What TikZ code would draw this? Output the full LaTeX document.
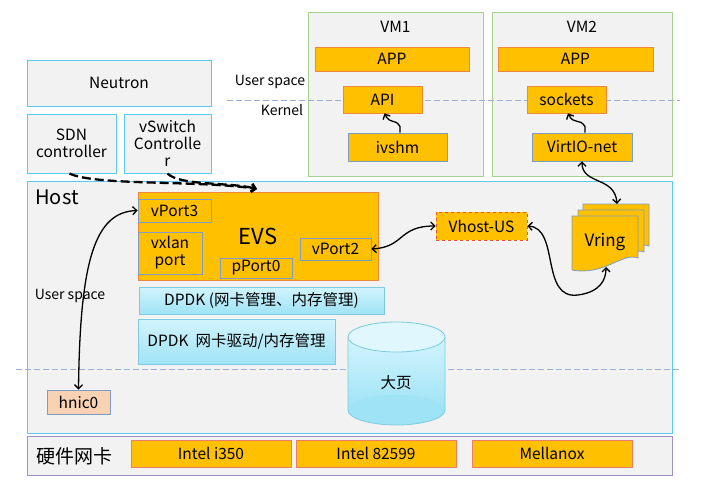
\documentclass[tikz,border=0pt]{standalone}
\usepackage{fontspec}
\setmainfont{Noto Sans CJK SC}
\usetikzlibrary{arrows.meta}

\definecolor{evsorange}{HTML}{FFC000}
\definecolor{boxgray}{HTML}{F2F2F2}
\definecolor{skyline}{HTML}{5BC9EC}
\definecolor{vmgreen}{HTML}{A9D18E}
\definecolor{nicpurple}{HTML}{A38FC0}
\definecolor{portblue}{HTML}{7F9DC4}
\definecolor{apporange}{HTML}{F0883C}
\definecolor{sepblue}{HTML}{95B3D7}
\definecolor{dpdkline}{HTML}{7CCBE0}
\definecolor{dpdktop}{HTML}{D2F4FC}
\definecolor{dpdkbot}{HTML}{9FE3F6}
\definecolor{hnicfill}{HTML}{F9D2B4}
\definecolor{redline}{HTML}{E8503A}

\tikzset{
  base/.style={font=\fontsize{15.5}{17}\selectfont, inner sep=0pt, align=center},
  graybox/.style={base, draw=skyline, fill=boxgray, line width=1pt},
  vmbox/.style={base, draw=vmgreen, fill=boxgray, line width=1pt},
  nicbox/.style={base, draw=nicpurple, fill=boxgray, line width=1pt},
  appbox/.style={base, draw=apporange, fill=evsorange, line width=0.8pt},
  intelbox/.style={base, draw=redline!75, fill=evsorange, line width=0.8pt},
  portbox/.style={base, draw=portblue, fill=evsorange, line width=0.8pt},
  dpdkbox/.style={base, draw=dpdkline, top color=dpdktop, bottom color=dpdkbot, line width=0.8pt},
  link/.style={<->, line width=1.3pt},
  wiggle/.style={->, line width=1.3pt},
  ctrl/.style={->, line width=2.3pt, dash pattern=on 9pt off 4pt},
  sep/.style={draw=sepblue, line width=1pt, dash pattern=on 6pt off 3pt}
}

\begin{document}
\begin{tikzpicture}[x=1pt, y=-1pt, >={Straight Barb[length=4pt,width=8pt]}]
  \useasboundingbox (0,0) rectangle (710,485);

  % controllers
  \node[graybox, minimum width=184, minimum height=46] (neutron) at (119,83) {Neutron};
  \node[graybox, minimum width=89, minimum height=59] (sdn) at (71.5,143.5) {SDN\\controller};
  \node[graybox, minimum width=87, minimum height=59] (vsc) at (167.5,143.5) {vSwitch\\Controlle\\r};

  % VMs
  \node[vmbox, minimum width=175, minimum height=164] (vm1) at (395.5,94) {};
  \node[vmbox, minimum width=180, minimum height=164] (vm2) at (582,94) {};
  \node[base] (vm1title) at (395.5,27) {VM1};
  \node[base] (vm2title) at (582,27) {VM2};

  \draw[sep] (227,100) -- (680,100);
  \node[base, font=\fontsize{14}{16}\selectfont] (userup) at (270,82) {User space};
  \node[base, font=\fontsize{14}{16}\selectfont] (kernel) at (282,110) {Kernel};

  \node[appbox, minimum width=154, minimum height=24] (app1) at (392,59) {APP};
  \node[appbox, minimum width=155, minimum height=24] (app2) at (575.5,59) {APP};
  \node[appbox, minimum width=79, minimum height=27] (api) at (382.5,99.5) {API};
  \node[portbox, minimum width=99, minimum height=28] (ivshm) at (397.5,147) {ivshm};
  \node[appbox, minimum width=79, minimum height=27] (sockets) at (566.5,99.5) {sockets};
  \node[portbox, minimum width=100, minimum height=28] (virtio) at (582,147) {VirtIO-net};

  % host
  \node[graybox, minimum width=645, minimum height=252] (host) at (349.5,307) {};
  \node[base, font=\fontsize{20}{22}\selectfont] (hosttitle) at (57,197) {Host};
  \node[base, font=\fontsize{14}{16}\selectfont] (userdown) at (70,296) {User space};

  \node[appbox, minimum width=240, minimum height=88] (evs) at (258,236) {};
  \node[base, font=\fontsize{22}{24}\selectfont] (evstitle) at (258,236) {EVS};
  \node[portbox, minimum width=73, minimum height=23] (vport3) at (174.5,210.5) {vPort3};
  \node[portbox, minimum width=64, minimum height=42] (vxlan) at (170,253) {vxlan\\port};
  \node[portbox, minimum width=72, minimum height=20] (pport0) at (256,268) {pPort0};
  \node[portbox, minimum width=71, minimum height=22] (vport2) at (335.5,249) {vPort2};

  \node[dpdkbox, minimum width=245, minimum height=27] (dpdkmgmt) at (261.5,300.5) {DPDK (网卡管理、内存管理)};
  \node[dpdkbox, minimum width=197, minimum height=45] (dpdkdrv) at (236.5,341.5) {DPDK\ \ 网卡驱动/内存管理};

  \draw[sep] (16,369) -- (679,369);

  % hugepage cylinder
  \fill[top color=dpdktop, bottom color=dpdkbot] (348,337) rectangle (445,410);
  \fill[dpdkbot] (396.5,410) ellipse[x radius=48.5pt, y radius=15pt];
  \draw[dpdkline, line width=0.8pt] (348,337) -- (348,410) arc[start angle=180, end angle=360, x radius=48.5pt, y radius=15pt] -- (445,337);
  \draw[dpdkline, line width=0.8pt, fill=dpdktop!70!white] (396.5,337) ellipse[x radius=48.5pt, y radius=15pt];
  \node[base] (hugepage) at (396,383) {大页};

  \node[portbox, fill=hnicfill, minimum width=63, minimum height=24] (hnic0) at (78.5,402) {hnic0};

  \node[appbox, draw=redline, dashed, minimum width=91, minimum height=28] (vhost) at (481.5,226) {Vhost-US};

  % vring pages
  \foreach \dx/\dy in {11/-12, 6/-6, 0/0}{
    \begin{scope}[shift={(572+\dx,216+\dy)}]
      \draw[fill=evsorange, draw=portblue, line width=0.8pt]
        (0,0) -- (66,0) -- (66,42) .. controls (50,36) and (33,60) .. (0,54) -- cycle;
    \end{scope}
  }
  \node[base, font=\fontsize{17}{19}\selectfont] (vring) at (605,242) {Vring};
  \coordinate (vringtop) at (617,204);
  \coordinate (vringbot) at (606,267);

  % hardware
  \node[nicbox, minimum width=645, minimum height=39] (hw) at (349.5,455.5) {};
  \node[base, font=\fontsize{19}{21}\selectfont] (hwtitle) at (74,456) {硬件网卡};
  \node[intelbox, minimum width=160, minimum height=27] (i350) at (211,453.5) {Intel i350};
  \node[intelbox, minimum width=160, minimum height=27] (i82599) at (376,453.5) {Intel 82599};
  \node[intelbox, minimum width=160, minimum height=27] (mlnx) at (552,453.5) {Mellanox};

  % connectors
  \coordinate (evsin) at (257,189);
  \draw[ctrl] ([xshift=-2pt]sdn.south) .. controls (95,186) and (200,180) .. (evsin);
  \draw[ctrl] (vsc.south) .. controls (180,186) and (230,182) .. (evsin);
  \draw[wiggle] ([xshift=2.5pt]ivshm.north) -- ++(0,-6) .. controls +(-5,-9) and +(6,12) .. ([xshift=2pt]api.south);
  \draw[wiggle] ([xshift=3pt]virtio.north) -- ++(0,-6) .. controls +(-5,-9) and +(6,12) .. ([xshift=1.5pt]sockets.south);
  \draw[link] (hnic0.north) .. controls (80,260) and (95,212) .. (vport3.west);
  \draw[link] (vport2.east) .. controls (405,247) and (398,226) .. (vhost.west);
  \draw[link] (vhost.east) .. controls (560,228) and (540,300) .. (578,295) .. controls (600,292) and (606,280) .. (vringbot);
  \draw[link] (virtio.south) .. controls (582,185) and (615,176) .. (vringtop);
\end{tikzpicture}
\end{document}
